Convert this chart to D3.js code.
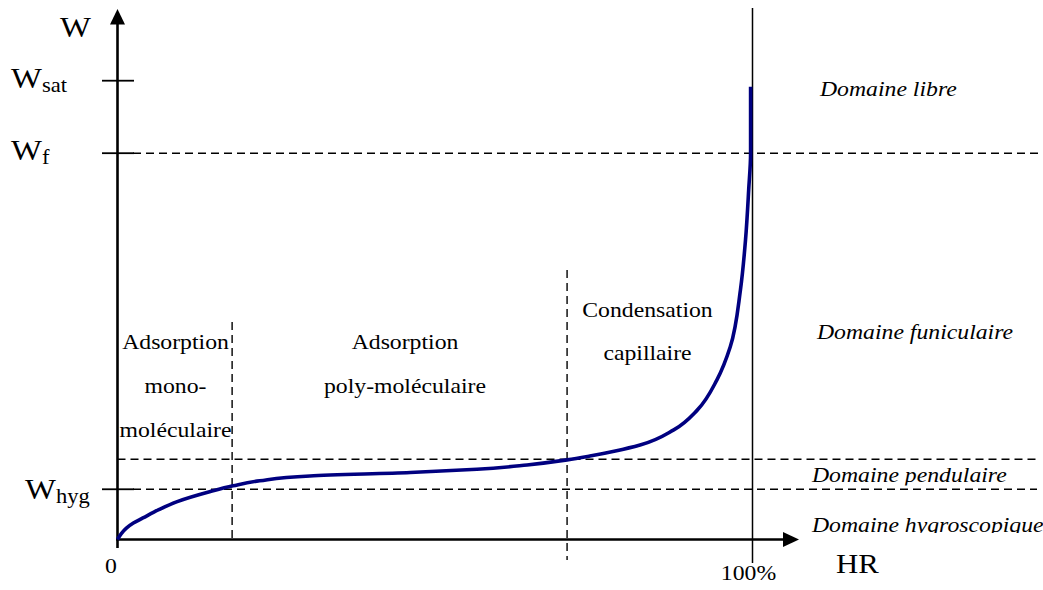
<!DOCTYPE html>
<html><head><meta charset="utf-8">
<script src="https://cdn.jsdelivr.net/npm/d3@7"></script>
<style>html,body{margin:0;padding:0;background:#fff;overflow:hidden}svg{display:block}</style>
</head><body>
<svg id="c" width="1043" height="590"></svg>
<script>
// ---- data ----
const curveHR = [0, 0.6, 1.4, 2.5, 4.0, 6.5, 9.3, 14.5, 18.2, 22.4, 30.3, 46.1, 56.6, 64.5, 70.8, 74.4, 78.4, 82.3, 87.6, 91.3, 94.4, 96.5, 98.1, 98.9, 99.4, 99.7, 99.7];
const curveW  = [0, 1.3, 2.5, 3.6, 4.7, 6.5, 8.2, 10.4, 11.7, 12.8, 13.85, 14.6, 15.3, 16.25, 17.35, 18.2, 19.3, 20.6, 23.9, 28.2, 34.8, 42.0, 54.4, 65.3, 76.2, 84.3, 98.7];
const levelNames = ["Wsat", "Wf", "Wpend", "Whyg"];
const levelValues = [100, 84.2, 17.5, 10.95];
const dividerHR = [18.05, 70.8];
const xTickLabels = ["0", "100%"];
const xTickValues = [0, 100];
const regionLabels = [["Adsorption", "mono-", "moléculaire"], ["Adsorption", "poly-moléculaire"], ["Condensation", "capillaire"]];
const domainLabels = ["Domaine libre", "Domaine funiculaire", "Domaine pendulaire", "Domaine hygroscopique"];

// ---- scales ----
const x = d3.scaleLinear().domain([0, 100]).range([117.5, 752.5]);
const y = d3.scaleLinear().domain([0, 100]).range([539.5, 80.7]);
const svg = d3.select("#c");
const FONT = "'Liberation Serif','Times New Roman',serif";
const SX = 1.13;

const lv = {}; levelNames.forEach((n, i) => lv[n] = levelValues[i]);

// dashed guide lines
const dash = "8,5";
function dline(x1, x2, y1, y2) {
  svg.append("line").attr("x1", x1).attr("x2", x2).attr("y1", y1).attr("y2", y2)
    .attr("stroke", "#000").attr("stroke-width", 1.4).attr("stroke-dasharray", dash);
}
dline(133, 1043, y(lv.Wf), y(lv.Wf));
dline(x(0), 1037, y(lv.Wpend), y(lv.Wpend));
dline(133, 1037, y(lv.Whyg), y(lv.Whyg));
dline(x(dividerHR[0]), x(dividerHR[0]), 322, y(0));
dline(x(dividerHR[1]), x(dividerHR[1]), 270, 560);

// 100% vertical line
svg.append("line").attr("x1", x(100)).attr("x2", x(100)).attr("y1", 8).attr("y2", 563)
  .attr("stroke", "#000").attr("stroke-width", 1.5);

// ticks on W axis
[lv.Wsat, lv.Wf, lv.Whyg].forEach(v => {
  svg.append("line").attr("x1", 102).attr("x2", 134).attr("y1", y(v)).attr("y2", y(v))
    .attr("stroke", "#000").attr("stroke-width", 1.8);
});

// axes
svg.append("line").attr("x1", x(0)).attr("x2", x(0)).attr("y1", 22).attr("y2", 548)
  .attr("stroke", "#000").attr("stroke-width", 2.6);
svg.append("path").attr("d", `M${x(0)},9 L${x(0) - 7.5},24.5 L${x(0) + 7.5},24.5 Z`).attr("fill", "#000");
svg.append("line").attr("x1", x(0) - 1.3).attr("x2", 786).attr("y1", y(0)).attr("y2", y(0))
  .attr("stroke", "#000").attr("stroke-width", 2.6);
svg.append("path").attr("d", `M799,${y(0)} L783,${y(0) - 7.5} L783,${y(0) + 7.5} Z`).attr("fill", "#000");

// curve
const pts = curveHR.map((h, i) => [x(h), y(curveW[i])]);
svg.append("path").attr("d", d3.line().curve(d3.curveMonotoneY)(pts))
  .attr("fill", "none").attr("stroke", "#000080").attr("stroke-width", 3.6).attr("stroke-linecap", "butt");

// text helper
function txt(parent, s, tx, ty, size, anchor, italic, sx) {
  return parent.append("text").attr("transform", `translate(${tx},${ty}) scale(${sx || SX},1)`)
    .attr("font-family", FONT).attr("font-size", size).attr("text-anchor", anchor || "start")
    .attr("font-style", italic ? "italic" : "normal").attr("fill", "#000").text(s);
}

// W labels
txt(svg, "W", 60, 37, 29, "start");
function wlab(sub, tx, ty) {
  const t = svg.append("text").attr("transform", `translate(${tx},${ty}) scale(${SX},1)`)
    .attr("font-family", FONT).attr("font-size", 29).attr("fill", "#000");
  t.append("tspan").text("W");
  t.append("tspan").attr("font-size", 20).attr("dy", 4).text(sub);
}
wlab("sat", 11, y(lv.Wsat) + 7);
wlab("f", 11, y(lv.Wf) + 7);
wlab("hyg", 25, y(lv.Whyg) + 10);

// x labels
txt(svg, xTickLabels[0], x(xTickValues[0]) - 6.5, 573, 21, "middle");
txt(svg, xTickLabels[1], x(xTickValues[1]) - 4, 580, 21, "middle");
txt(svg, "HR", 836, 573, 27, "start", false, 1.14);

// region labels
const regionCx = [175.5, 405, 647.5];
const regionY0 = [349, 349, 316.5];
const lineGap = [44, 44, 43.5];
regionLabels.forEach((lines, i) => {
  lines.forEach((s, j) => txt(svg, s, regionCx[i], regionY0[i] + j * lineGap[i], 21, "middle"));
});

// domain labels (italic), the lower two clipped as in the original
const defs = svg.append("defs");
defs.append("clipPath").attr("id", "clipPend").append("rect").attr("x", 780).attr("y", 461).attr("width", 263).attr("height", 24.5);
defs.append("clipPath").attr("id", "clipHyg").append("rect").attr("x", 780).attr("y", 491).attr("width", 263).attr("height", 42);
txt(svg, domainLabels[0], 820, 96, 21, "start", true);
txt(svg, domainLabels[1], 817, 339, 21, "start", true);
const gP = svg.append("g").attr("clip-path", "url(#clipPend)");
txt(gP, domainLabels[2], 812, 482, 21, "start", true);
const gH = svg.append("g").attr("clip-path", "url(#clipHyg)");
txt(gH, domainLabels[3], 812, 532, 21, "start", true);
</script>
</body></html>
